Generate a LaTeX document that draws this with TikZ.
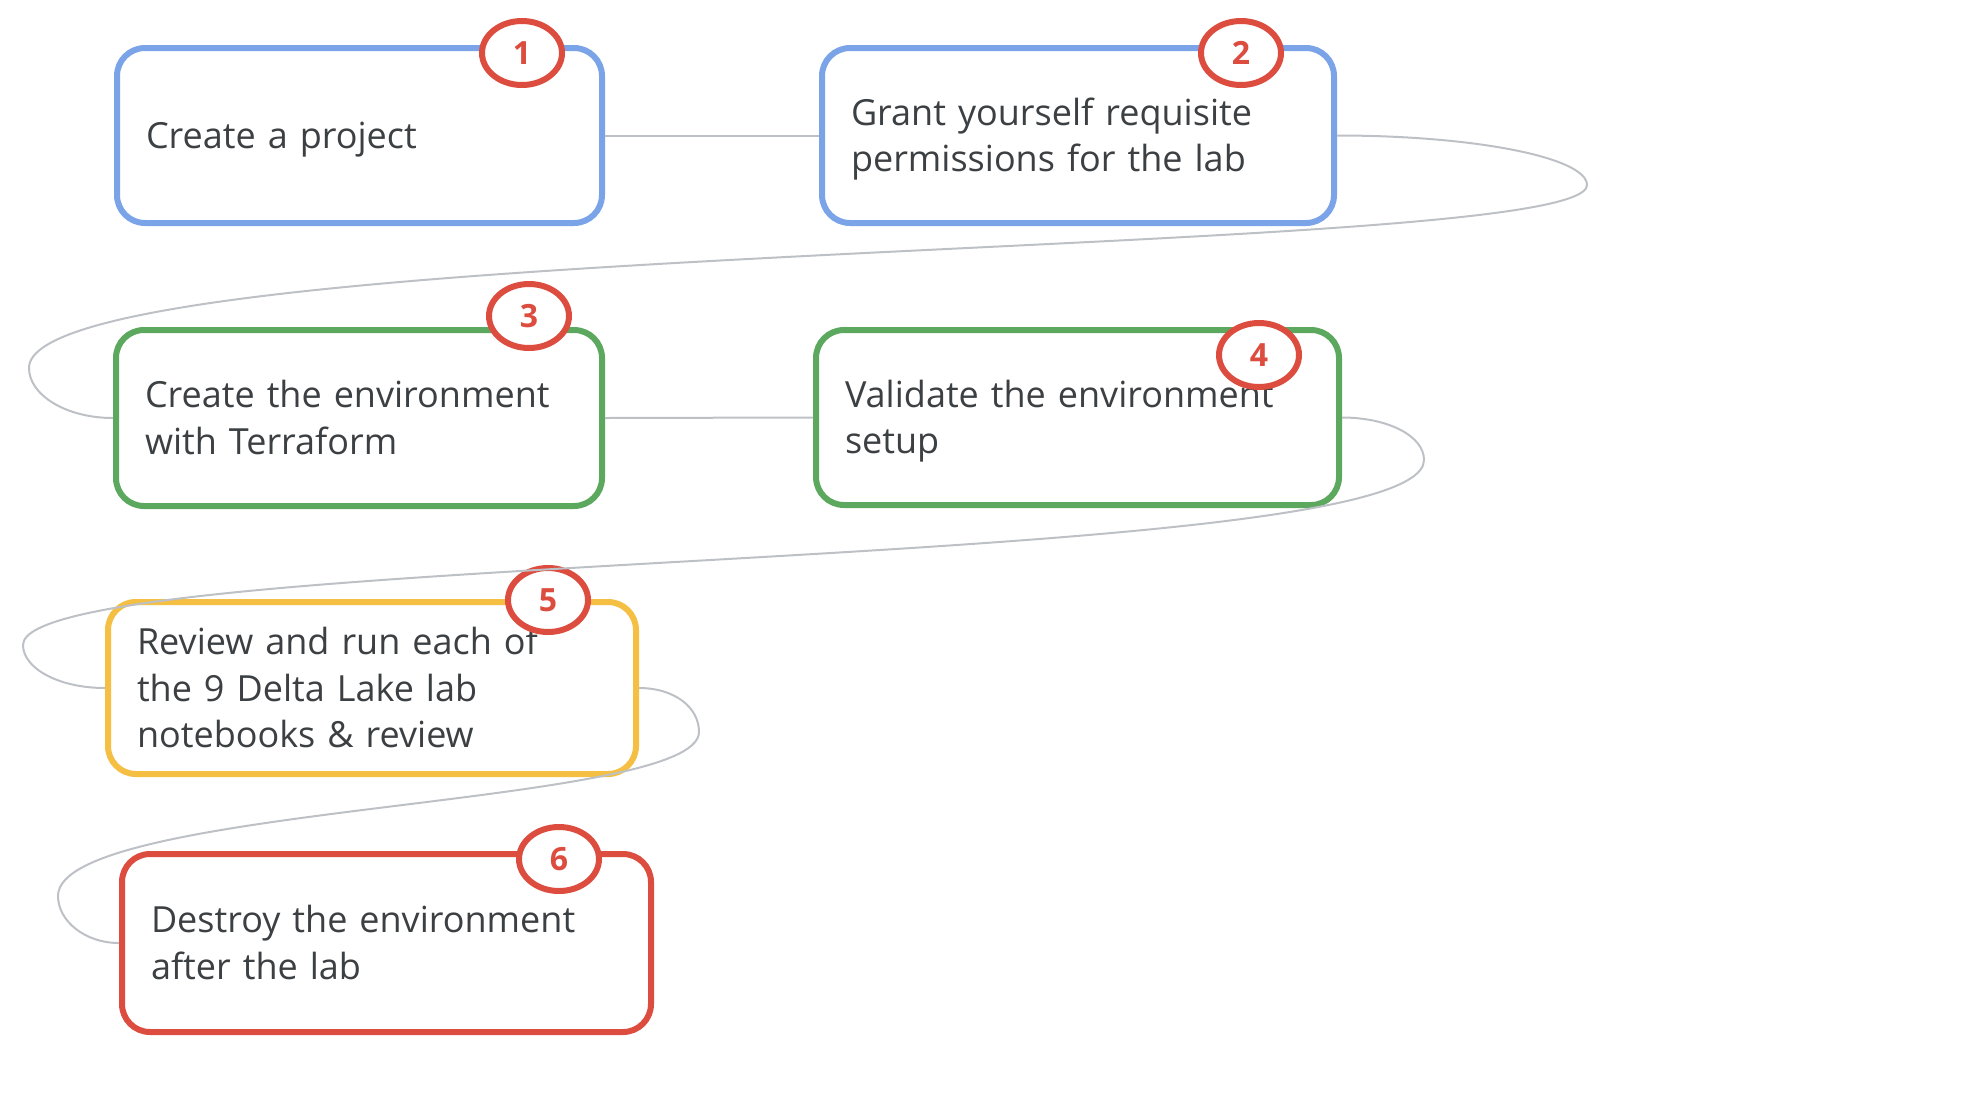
\documentclass[tikz,border=0pt]{standalone}
\usepackage{fontspec}
\setmainfont{Open Sans}
\usetikzlibrary{shapes.geometric}

\definecolor{gblue}{HTML}{7BA4E8}
\definecolor{ggreen}{HTML}{5BA85E}
\definecolor{gyellow}{HTML}{F4BF42}
\definecolor{gred}{HTML}{DC4D3F}
\definecolor{gtext}{HTML}{3C4043}
\definecolor{gline}{HTML}{BDC1C6}

\newcommand{\linestrut}{\rule[-5pt]{0pt}{23pt}}

\tikzset{
	taskbox/.style n args={4}{draw=#1, line width=3pt, fill=white,
		rectangle, rounded corners=14pt, align=left,
		inner xsep=14.5pt, inner ysep=0pt,
		minimum width=#2, text width=#3, minimum height=#4,
		text=gtext, font=\fontsize{18}{23.3}\selectfont,
		execute at begin node=\linestrut, execute at end node=\linestrut},
	badge/.style={draw=gred, line width=3pt, fill=white, ellipse,
		inner sep=0pt, minimum width=40pt, minimum height=32pt,
		text=gred, font=\fontsize{16}{16}\selectfont\bfseries},
	link/.style={draw=gline, line width=1pt}
}

\begin{document}
\begin{tikzpicture}[x=0.5pt, y=-0.5pt]
	% NOTE: one unit is one pixel of the slide, y runs downwards.
	\useasboundingbox (0,0) rectangle (1970,1104);

	\node[taskbox={gblue}{242.5pt}{213.5pt}{87.5pt}] (b1) at (359.5,135.5) {Create a project};
	\node[taskbox={gblue}{256pt}{227pt}{87.5pt}] (b2) at (1078,135.5)
		{Grant yourself requisite\\permissions for the lab};
	\node[taskbox={ggreen}{243pt}{214pt}{88pt}] (b3) at (359,418)
		{Create the environment\\with Terraform};
	\node[taskbox={ggreen}{261.5pt}{232.5pt}{87.5pt}] (b4) at (1077.5,417.5)
		{Validate the environment\\setup};
	\node[taskbox={gyellow}{264pt}{235pt}{86pt}] (b5) at (372,688)
		{Review and run each of\\the 9 Delta Lake lab\\notebooks \& review};
	\node[taskbox={gred}{264.5pt}{235.5pt}{89pt}] (b6) at (386.5,943)
		{Destroy the environment\\after the lab};

	\node[badge] (n1) at (522,53) {1};
	\node[badge] (n2) at (1241,53) {2};
	\node[badge] (n3) at (529,316) {3};
	\node[badge] (n4) at (1259,355) {4};
	\node[badge] (n5) at (548,600) {5};
	\node[badge] (n6) at (559,859) {6};

	% turning points of the three loops
	\coordinate (r1) at (1587,185);
	\coordinate (l1) at (29,368);
	\coordinate (r2) at (1424,460);
	\coordinate (l2) at (23,645);
	\coordinate (r3) at (699,732);
	\coordinate (l3) at (58,896);

	\draw[link] (b1.east) -- (b2.west);
	\draw[link] (b2.east) .. controls +(140,0) and +(0,-27) .. (r1)
		.. controls +(0,76) and +(0,-131) .. (l1)
		.. controls +(0,27) and +(-47,0) .. (b3.west);
	\draw[link] (b3.east) -- (b4.west);
	\draw[link] (b4.east) .. controls +(46,0) and +(0,-24) .. (r2)
		.. controls +(0,114) and +(0,-96) .. (l2)
		.. controls +(0,23) and +(-47,0) .. (b5.west);
	\draw[link] (b5.east) .. controls +(35,0) and +(0,-25) .. (r3)
		.. controls +(0,76) and +(0,-92) .. (l3)
		.. controls +(0,25) and +(-34,0) .. (b6.west);
\end{tikzpicture}
\end{document}
